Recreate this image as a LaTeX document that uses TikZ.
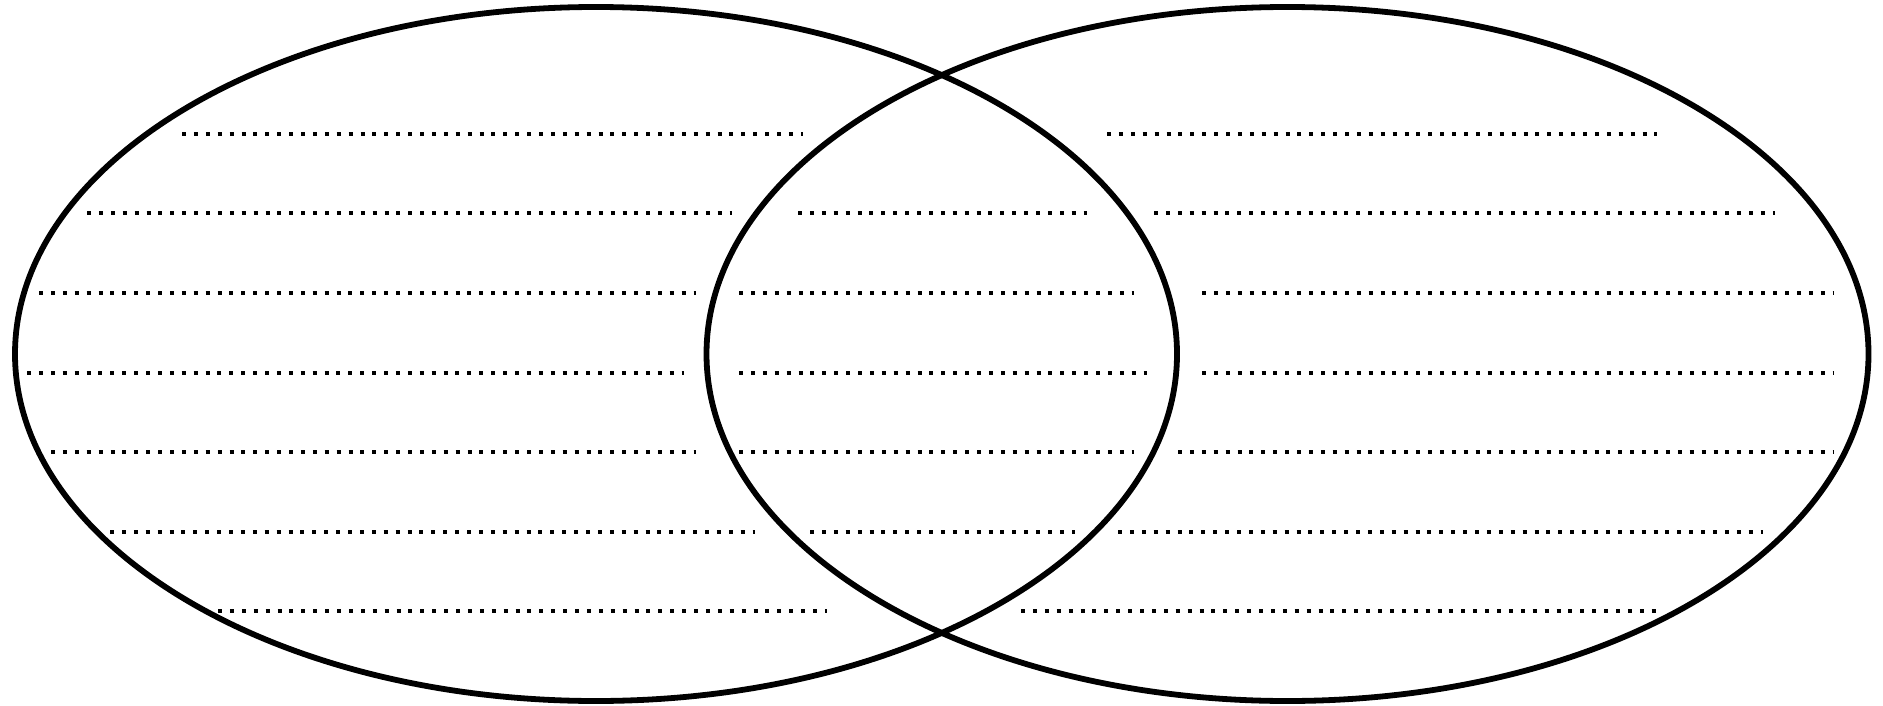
\documentclass[tikz,border=0pt]{standalone}
\begin{document}
\begin{tikzpicture}[x=0.5pt,y=-0.5pt,
  ring/.style={draw=black,line width=2.9pt},
  dotrow/.style={draw=black,line width=2pt,line cap=butt,dash pattern=on 2pt off 3.95pt}]
\useasboundingbox (0,0) rectangle (1883,706);
% two overlapping ellipses
\draw[ring] (596,354) ellipse [x radius=290.5pt, y radius=173.5pt];
\draw[ring] (1287.5,354) ellipse [x radius=290.5pt, y radius=173.5pt];
% row 1
\draw[dotrow] (182,134) -- (803,134);
\draw[dotrow] (1107,134) -- (1657,134);
% row 2
\draw[dotrow] (87,213) -- (732,213);
\draw[dotrow] (798,213) -- (1087,213);
\draw[dotrow] (1154,213) -- (1775,213);
% row 3
\draw[dotrow] (39,293) -- (696,293);
\draw[dotrow] (739,293) -- (1134,293);
\draw[dotrow] (1202,293) -- (1834,293);
% row 4
\draw[dotrow] (27,373) -- (684,373);
\draw[dotrow] (739,373) -- (1147,373);
\draw[dotrow] (1202,373) -- (1834,373);
% row 5
\draw[dotrow] (51,452) -- (696,452);
\draw[dotrow] (739,452) -- (1134,452);
\draw[dotrow] (1178,452) -- (1834,452);
% row 6
\draw[dotrow] (110,532) -- (755,532);
\draw[dotrow] (810,532) -- (1075,532);
\draw[dotrow] (1118,532) -- (1763,532);
% row 7
\draw[dotrow] (218,611) -- (827,611);
\draw[dotrow] (1021,611) -- (1657,611);
\end{tikzpicture}
\end{document}
